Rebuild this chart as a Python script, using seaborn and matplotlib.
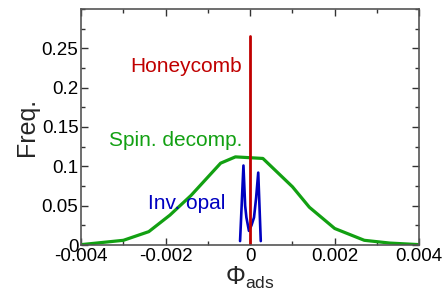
import numpy as np
import pandas as pd
import matplotlib
matplotlib.use("Agg")
import matplotlib.pyplot as plt
from matplotlib.ticker import MultipleLocator
import seaborn as sns

# values
spin_x = [-0.004, -0.003, -0.0024, -0.0019, -0.0014, -0.0007, -0.00035,
          0.0003, 0.001, 0.0014, 0.002, 0.0027, 0.0033, 0.004]
spin_y = [0.0005, 0.006, 0.017, 0.038, 0.063, 0.104, 0.112,
          0.110, 0.074, 0.048, 0.021, 0.006, 0.0025, 0.0005]

opal_x = [-0.00024, -0.00016, -0.00012, -0.00009, -0.00003,
          0.00003, 0.00009, 0.00014, 0.00019, 0.00025]
opal_y = [0.005, 0.101, 0.050, 0.035, 0.018,
          0.025, 0.035, 0.060, 0.092, 0.005]

honey_x = [0.0, 0.0]
honey_y = [0.0, 0.265]

xticks = [-0.004, -0.002, 0, 0.002, 0.004]
xtick_labels = ["-0.004", "-0.002", "0", "0.002", "0.004"]
yticks = [0, 0.05, 0.1, 0.15, 0.2, 0.25]
ytick_labels = ["0", "0.05", "0.1", "0.15", "0.2", "0.25"]

sns.set_style("ticks")
plt.rcParams["font.family"] = ["Liberation Sans", "DejaVu Sans"]
plt.rcParams["mathtext.fontset"] = "custom"
plt.rcParams["mathtext.rm"] = "Liberation Sans"
plt.rcParams["mathtext.it"] = "Liberation Sans:italic"

green = "#12a012"
red = "#c00000"
blue = "#0000c0"

fig = plt.figure(figsize=(4.46, 2.97), dpi=100)
ax = fig.add_axes([0.182, 0.175, 0.758, 0.795])

spin = pd.DataFrame({"x": spin_x, "y": spin_y})
opal = pd.DataFrame({"x": opal_x, "y": opal_y})
honey = pd.DataFrame({"x": honey_x, "y": honey_y})

sns.lineplot(data=spin, x="x", y="y", color=green, lw=2.3, sort=False, ax=ax)
sns.lineplot(data=opal, x="x", y="y", color=blue, lw=1.9, sort=False, ax=ax)
sns.lineplot(data=honey, x="x", y="y", color=red, lw=2.0, sort=False,
             orient="y", ax=ax)

ax.text(-0.0002, 0.227, "Honeycomb", color=red, fontsize=15, ha="right",
        va="center")
ax.text(-0.00018, 0.133, "Spin. decomp.", color=green, fontsize=15, ha="right",
        va="center")
ax.text(-0.0015, 0.053, "Inv. opal", color=blue, fontsize=15, ha="center",
        va="center")

ax.set_xlim(-0.004, 0.004)
ax.set_ylim(0, 0.3)
ax.set_xticks(xticks)
ax.set_xticklabels(xtick_labels)
ax.set_yticks(yticks)
ax.set_yticklabels(ytick_labels)
ax.xaxis.set_minor_locator(MultipleLocator(0.001))
ax.yaxis.set_minor_locator(MultipleLocator(0.025))
ax.tick_params(which="both", direction="in", top=True, right=True,
               labelsize=13.5, colors="#333333", labelcolor="black", pad=2)
ax.tick_params(which="major", length=5, width=1)
ax.tick_params(which="minor", length=3, width=1)
for s in ax.spines.values():
    s.set_color("#555555")
    s.set_linewidth(1.2)

ax.set_xlabel(r"$\Phi_{\mathrm{ads}}$", fontsize=18, labelpad=0)
ax.set_ylabel("Freq.", fontsize=18, labelpad=2)

fig.savefig("out.png", dpi=100)
